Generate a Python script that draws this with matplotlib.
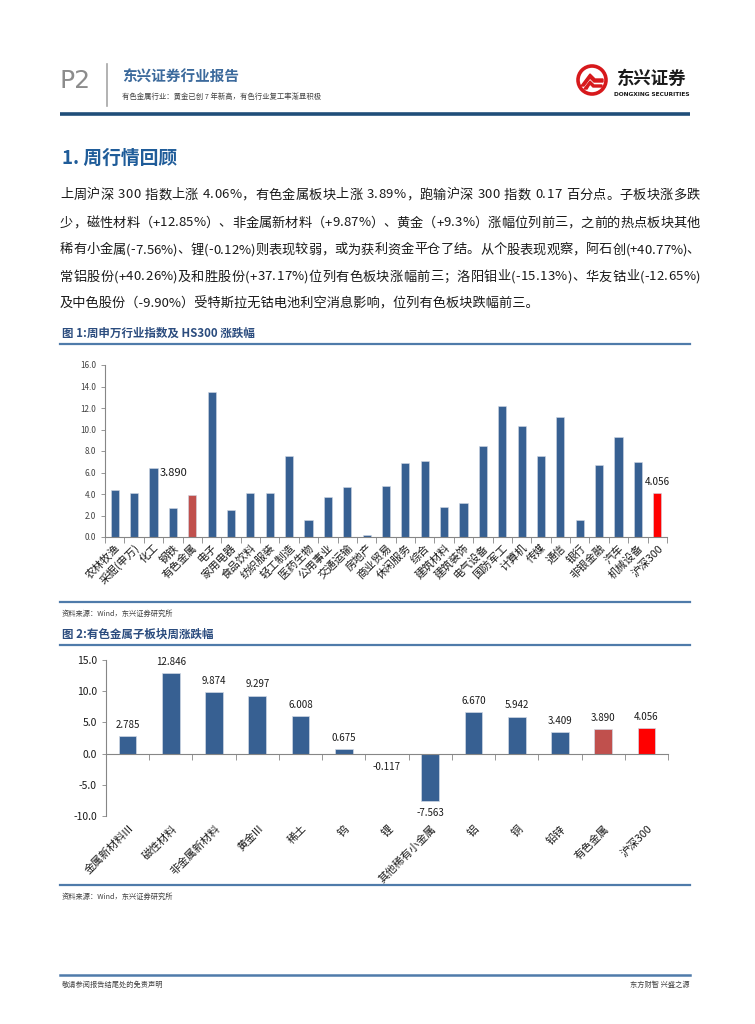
import matplotlib
matplotlib.use("Agg")
import matplotlib.pyplot as plt
from matplotlib.patches import Circle, Polygon
from matplotlib.ticker import MultipleLocator, FormatStrFormatter, FixedLocator

plt.rcParams['font.family'] = ['Noto Sans CJK SC', 'DejaVu Sans']

# ---- data ----
ind_names = ['农林牧渔', '采掘(申万)', '化工', '钢铁', '有色金属', '电子', '家用电器', '食品饮料',
             '纺织服装', '轻工制造', '医药生物', '公用事业', '交通运输', '房地产', '商业贸易',
             '休闲服务', '综合', '建筑材料', '建筑装饰', '电气设备', '国防军工', '计算机', '传媒',
             '通信', '银行', '非银金融', '汽车', '机械设备', '沪深300']
ind_values = [4.38, 4.10, 6.45, 2.70, 3.890, 13.45, 2.50, 4.10, 4.10, 7.52, 1.62, 3.75, 4.62,
              0.20, 4.70, 6.85, 7.10, 2.82, 3.12, 8.42, 12.22, 10.35, 7.52, 11.15, 1.62, 6.68,
              9.30, 7.00, 4.056]

sub_names = ['金属新材料III', '磁性材料', '非金属新材料', '黄金III', '稀土', '钨', '锂',
             '其他稀有小金属', '铝', '铜', '铅锌', '有色金属', '沪深300']
sub_values = [2.785, 12.846, 9.874, 9.297, 6.008, 0.675, -0.117, -7.563, 6.670, 5.942,
              3.409, 3.890, 4.056]

para_lines = [
    '上周沪深 300 指数上涨 4.06%，有色金属板块上涨 3.89%，跑输沪深 300 指数 0.17 百分点。子板块涨多跌',
    '少，磁性材料（+12.85%）、非金属新材料（+9.87%）、黄金（+9.3%）涨幅位列前三，之前的热点板块其他',
    '稀有小金属(-7.56%)、锂(-0.12%)则表现较弱，或为获利资金平仓了结。从个股表现观察，阿石创(+40.77%)、',
    '常铝股份(+40.26%)及和胜股份(+37.17%)位列有色板块涨幅前三；洛阳钼业(-15.13%)、华友钴业(-12.65%)',
    '及中色股份（-9.90%）受特斯拉无钴电池利空消息影响，位列有色板块跌幅前三。',
]

BLUE = '#376092'
RED1 = '#C0504D'
RED2 = '#FF0000'
NAVY = '#1F4E79'
AX_GRAY = '#868686'

W, H = 755, 1024
fig = plt.figure(figsize=(W / 100, H / 100), dpi=100)
renderer = fig.canvas.get_renderer()

# page overlay in pixel coordinates
bg = fig.add_axes([0, 0, 1, 1])
bg.set_xlim(0, W)
bg.set_ylim(H, 0)
bg.axis('off')

# header
bg.text(60, 81, 'P2', fontsize=18, color='#8C8C8C', va='center', ha='left', family='DejaVu Sans')
bg.plot([107, 107], [64, 106], color='#A6A6A6', lw=1.2)
bg.text(122, 77, '东兴证券行业报告', fontsize=10.5, color='#3C6A9C', weight='bold', va='center')
bg.text(122, 97, '有色金属行业：黄金已创 7 年新高，有色行业复工率渐显积极', fontsize=5.3,
        color='#404040', va='center')
bg.plot([60, 690], [114, 114], color=NAVY, lw=2.6, solid_capstyle='butt')

# logo
bg.add_patch(Circle((592, 80), 14, facecolor='white', edgecolor='#D7191C', lw=2.6))
bg.add_patch(Polygon([[581, 86], [590, 74], [595, 79], [603, 79], [603, 82], [594, 82],
                      [590, 78], [584, 86]], closed=True, color='#D7191C'))
bg.add_patch(Polygon([[584, 89], [590, 81], [594, 85], [602, 85], [602, 87], [593, 87],
                      [590, 84], [587, 89]], closed=True, color='#D7191C'))
bg.text(652, 79, '东兴证券', fontsize=12.5, weight='bold', color='#1A1A1A', ha='center', va='center')
bg.text(652, 95, 'DONGXING SECURITIES', fontsize=4.2, weight='bold', color='#1A1A1A',
        ha='center', va='center', family='DejaVu Sans')

# section heading
bg.text(62, 158, '1. 周行情回顾', fontsize=13.5, weight='bold', color='#1F5C99', va='center')


# paragraph, justified like the report (last line left aligned)
def char_width(ch, size):
    t = bg.text(0, 0, ch, fontsize=size)
    w = t.get_window_extent(renderer).width
    t.remove()
    return w


PARA_SIZE = 9.5
para_y = [195, 223, 250, 277, 304]
left, right = 60, 700
for k, (y, line) in enumerate(zip(para_y, para_lines)):
    if k == len(para_lines) - 1:
        bg.text(left, y, line, fontsize=PARA_SIZE, color='#1A1A1A', va='center', ha='left')
        continue
    widths = [char_width(c if c != ' ' else 'a', PARA_SIZE) * (0.55 if c == ' ' else 1) for c in line]
    gap = (right - left - sum(widths)) / (len(line) - 1)
    x = left
    for c, w in zip(line, widths):
        if c != ' ':
            bg.text(x, y, c, fontsize=PARA_SIZE, color='#1A1A1A', va='center', ha='left')
        x += w + gap

# figure 1 title
bg.text(62, 333, '图 1:周申万行业指数及 HS300 涨跌幅', fontsize=8.3, weight='bold', color='#2B4C7E', va='center')
bg.plot([60, 690], [344, 344], color='#4F7BAA', lw=1.6)
bg.plot([60, 690], [602, 602], color='#4F7BAA', lw=1.6)
bg.text(62, 614, '资料来源：Wind，东兴证券研究所', fontsize=5.2, color='#404040', va='center')

# figure 2 title
bg.text(62, 634, '图 2:有色金属子板块周涨跌幅', fontsize=8.3, weight='bold', color='#2B4C7E', va='center')
bg.plot([60, 690], [645, 645], color='#4F7BAA', lw=1.6)
bg.plot([60, 690], [885, 885], color='#4F7BAA', lw=1.6)
bg.text(62, 897, '资料来源：Wind，东兴证券研究所', fontsize=5.2, color='#404040', va='center')

# footer
bg.plot([60, 690], [975, 975], color='#4F7BAA', lw=1.8)
bg.text(62, 985, '敬请参阅报告结尾处的免责声明', fontsize=5.2, color='#404040', va='center')
bg.text(690, 985, '东方财智 兴盛之源', fontsize=5.2, color='#404040', va='center', ha='right')


def px_axes(l, t, r, b):
    return fig.add_axes([l / W, 1 - b / H, (r - l) / W, (b - t) / H])


# ---- chart 1 ----
ax1 = px_axes(105, 365, 667, 537)
x1 = list(range(len(ind_names)))
colors1 = [BLUE] * len(ind_names)
colors1[ind_names.index('有色金属')] = RED1
colors1[ind_names.index('沪深300')] = RED2
ax1.bar(x1, ind_values, width=0.42, color=colors1, edgecolor='#D0D8E4', linewidth=0.4)
ax1.set_xlim(-0.5, len(ind_names) - 0.5)
ax1.set_ylim(0, 16)
ax1.yaxis.set_major_locator(MultipleLocator(2))
ax1.yaxis.set_major_formatter(FormatStrFormatter('%.1f'))
for s in ['top', 'right']:
    ax1.spines[s].set_visible(False)
for s in ['left', 'bottom']:
    ax1.spines[s].set_color(AX_GRAY)
    ax1.spines[s].set_linewidth(0.8)
ax1.tick_params(axis='y', labelsize=5.8, colors=AX_GRAY, labelcolor='#404040', length=3, width=0.6)
ax1.set_xticks(x1)
ax1.set_xticklabels(ind_names, rotation=45, ha='right', va='top', rotation_mode='anchor',
                    fontsize=7.8, color='#1A1A1A')
ax1.tick_params(axis='x', which='major', length=0, pad=4)
ax1.xaxis.set_minor_locator(FixedLocator([i - 0.5 for i in range(len(ind_names) + 1)]))
ax1.tick_params(axis='x', which='minor', length=4, width=0.6, colors=AX_GRAY)
ax1.set_facecolor('none')

i_ys = ind_names.index('有色金属')
ax1.text(i_ys - 0.95, 6.0, f'{ind_values[i_ys]:.3f}', fontsize=8, color='#1A1A1A', ha='center', va='center')
i_hs = ind_names.index('沪深300')
ax1.annotate(f'{ind_values[i_hs]:.3f}', (i_hs, ind_values[i_hs]), xytext=(0, 8),
             textcoords='offset points', fontsize=7.2, ha='center', va='center', color='#1A1A1A')

# ---- chart 2 ----
ax2 = px_axes(106, 660, 668, 816)
x2 = list(range(len(sub_names)))
colors2 = [BLUE] * len(sub_names)
colors2[sub_names.index('有色金属')] = RED1
colors2[sub_names.index('沪深300')] = RED2
ax2.bar(x2, sub_values, width=0.41, color=colors2, edgecolor='#D0D8E4', linewidth=0.5)
ax2.set_xlim(-0.5, len(sub_names) - 0.5)
ax2.set_ylim(-10, 15)
ax2.yaxis.set_major_locator(MultipleLocator(5))
ax2.yaxis.set_major_formatter(FormatStrFormatter('%.1f'))
for s in ['top', 'right']:
    ax2.spines[s].set_visible(False)
ax2.spines['left'].set_color(AX_GRAY)
ax2.spines['left'].set_linewidth(0.8)
ax2.spines['bottom'].set_position(('data', 0))
ax2.spines['bottom'].set_color(AX_GRAY)
ax2.spines['bottom'].set_linewidth(0.8)
ax2.tick_params(axis='y', labelsize=7.5, colors=AX_GRAY, labelcolor='#1A1A1A', length=3, width=0.6)
ax2.set_xticks(x2)
ax2.set_xticklabels([''] * len(sub_names))
ax2.tick_params(axis='x', which='major', length=0)
ax2.xaxis.set_minor_locator(FixedLocator([i - 0.5 for i in range(len(sub_names) + 1)]))
ax2.tick_params(axis='x', which='minor', length=4, width=0.6, colors=AX_GRAY)
ax2.set_facecolor('none')

for i, (name, v) in enumerate(zip(sub_names, sub_values)):
    off = 8 if v >= 0 else -9
    ax2.annotate(f'{v:.3f}', (i, v), xytext=(0, off), textcoords='offset points',
                 fontsize=7, ha='center', va='center', color='#1A1A1A')
    ax2.annotate(name, (i, -10), xytext=(3, -8), textcoords='offset points',
                 rotation=45, ha='right', va='center', rotation_mode='anchor',
                 fontsize=7.8, color='#1A1A1A', annotation_clip=False)

fig.savefig('out.png', dpi=100)
